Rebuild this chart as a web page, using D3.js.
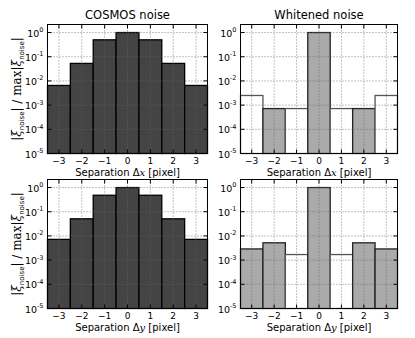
<!DOCTYPE html>
<html>
<head>
<meta charset="utf-8">
<script src="https://cdn.jsdelivr.net/npm/d3@7"></script>
<style>
  body { margin: 0; background: white; }
  text { font-family: "DejaVu Sans", sans-serif; }
</style>
</head>
<body>
<div id="chart"></div>
<script>
let w = 415;
let h = 338;

// data
let separations = [-3, -2, -1, 0, 1, 2, 3];
let cosmosX = [0.0065, 0.053, 0.5, 1, 0.5, 0.053, 0.0065];
let cosmosY = [0.0072, 0.051, 0.48, 1, 0.48, 0.051, 0.0072];
let whitenedX = [0.0025, 0.00072, 0.00072, 1, 0.00072, 0.00072, 0.0025];
let whitenedXNegative = [true, false, true, false, true, false, true];
let whitenedY = [0.0029, 0.0052, 0.0017, 1, 0.0017, 0.0052, 0.0029];
let whitenedYNegative = [false, false, true, false, true, false, false];
let yTicks = [1, 1e-1, 1e-2, 1e-3, 1e-4, 1e-5];
let yExponents = ["0", "-1", "-2", "-3", "-4", "-5"];
let titles = ["COSMOS noise", "Whitened noise"];

let svg = d3.select("#chart")
  .append("svg")
  .attr("width", w)
  .attr("height", h);

let panels = [
  { x0: 47.5, x1: 207.5, y0: 24.5, y1: 153.5, values: cosmosX, neg: null, dark: true, axis: "x", title: titles[0], ylabel: true },
  { x0: 240.5, x1: 397.5, y0: 24.5, y1: 153.5, values: whitenedX, neg: whitenedXNegative, dark: false, axis: "x", title: titles[1], ylabel: false },
  { x0: 47.5, x1: 207.5, y0: 179.5, y1: 308.5, values: cosmosY, neg: null, dark: true, axis: "y", title: null, ylabel: true },
  { x0: 240.5, x1: 397.5, y0: 179.5, y1: 308.5, values: whitenedY, neg: whitenedYNegative, dark: false, axis: "y", title: null, ylabel: false }
];

panels.forEach(p => {
  let x = d3.scaleLinear().domain([-3.5, 3.5]).range([p.x0, p.x1]);
  // 10^0 sits ~8px below the top of the frame
  let y = d3.scaleLog().domain([1e-5, 2.15]).range([p.y1, p.y0]);
  let g = svg.append("g");

  // bars
  g.selectAll("rect.bar")
    .data(separations)
    .join("rect")
    .attr("class", "bar")
    .attr("x", d => x(d - 0.5))
    .attr("width", d => x(d + 0.5) - x(d - 0.5))
    .attr("y", (d, i) => y(p.values[i]))
    .attr("height", (d, i) => y(1e-5) - y(p.values[i]))
    .attr("fill", (d, i) => p.dark ? "#444444" : (p.neg[i] ? "white" : "#aaaaaa"))
    .attr("stroke", (d, i) => p.dark ? "#000" : (p.neg[i] ? "#555" : "#222"))
    .attr("stroke-width", 1.3);

  // grid on top
  g.selectAll("line.gy")
    .data(yTicks)
    .join("line")
    .attr("x1", p.x0).attr("x2", p.x1)
    .attr("y1", d => y(d)).attr("y2", d => y(d))
    .attr("stroke", "#666")
    .attr("stroke-width", 0.8)
    .attr("stroke-dasharray", "1,2");
  g.selectAll("line.gx")
    .data(separations)
    .join("line")
    .attr("x1", d => x(d)).attr("x2", d => x(d))
    .attr("y1", p.y0).attr("y2", p.y1)
    .attr("stroke", "#666")
    .attr("stroke-width", 0.8)
    .attr("stroke-dasharray", "1,2");

  // frame
  g.append("rect")
    .attr("x", p.x0).attr("y", p.y0)
    .attr("width", p.x1 - p.x0).attr("height", p.y1 - p.y0)
    .attr("fill", "none")
    .attr("stroke", "#000")
    .attr("stroke-width", 1);

  // inward ticks
  yTicks.forEach(t => {
    g.append("line").attr("x1", p.x0).attr("x2", p.x0 + 4).attr("y1", y(t)).attr("y2", y(t)).attr("stroke", "#000");
    g.append("line").attr("x1", p.x1).attr("x2", p.x1 - 4).attr("y1", y(t)).attr("y2", y(t)).attr("stroke", "#000");
  });
  separations.forEach(t => {
    g.append("line").attr("x1", x(t)).attr("x2", x(t)).attr("y1", p.y1).attr("y2", p.y1 - 4).attr("stroke", "#000");
    g.append("line").attr("x1", x(t)).attr("x2", x(t)).attr("y1", p.y0).attr("y2", p.y0 + 4).attr("stroke", "#000");
  });

  // y tick labels
  let yl = g.selectAll("text.yt")
    .data(yTicks)
    .join("text")
    .attr("x", p.x0 - 4)
    .attr("y", d => y(d) + 4)
    .attr("text-anchor", "end")
    .attr("font-size", 9.5);
  yl.append("tspan").text("10");
  yl.append("tspan")
    .attr("font-size", 6.5)
    .attr("dy", -4.5)
    .text((d, i) => yExponents[i]);

  // x tick labels
  g.selectAll("text.xt")
    .data(separations)
    .join("text")
    .attr("x", d => x(d))
    .attr("y", p.y1 + 10)
    .attr("text-anchor", "middle")
    .attr("font-size", 9)
    .text(d => d < 0 ? "\u2212" + Math.abs(d) : d);

  // x label
  let xl = g.append("text")
    .attr("x", (p.x0 + p.x1) / 2)
    .attr("y", p.y1 + 22)
    .attr("text-anchor", "middle")
    .attr("font-size", 10);
  xl.append("tspan").text("Separation \u0394");
  xl.append("tspan").attr("font-style", "italic").attr("font-family", "DejaVu Serif").text(p.axis);
  xl.append("tspan").text(" [pixel]");

  if (p.title) {
    g.append("text")
      .attr("x", (p.x0 + p.x1) / 2)
      .attr("y", p.y0 - 6)
      .attr("text-anchor", "middle")
      .attr("font-size", 11.5)
      .text(p.title);
  }

  if (p.ylabel) {
    let lab = g.append("text")
      .attr("transform", `translate(21, ${(p.y0 + p.y1) / 2}) rotate(-90)`)
      .attr("text-anchor", "middle")
      .attr("font-size", 12);
    lab.append("tspan").text("|");
    lab.append("tspan").attr("font-style", "italic").attr("font-family", "DejaVu Serif").text("\u03be");
    lab.append("tspan").attr("font-size", 7).attr("dy", 2.5).text("noise");
    lab.append("tspan").attr("dy", -2.5).text("| / ");
    lab.append("tspan").attr("font-family", "DejaVu Serif").text("max");
    lab.append("tspan").text("|");
    lab.append("tspan").attr("font-style", "italic").attr("font-family", "DejaVu Serif").text("\u03be");
    lab.append("tspan").attr("font-size", 7).attr("dy", 2.5).text("noise");
    lab.append("tspan").attr("dy", -2.5).text("|");
  }
});
</script>
</body>
</html>
